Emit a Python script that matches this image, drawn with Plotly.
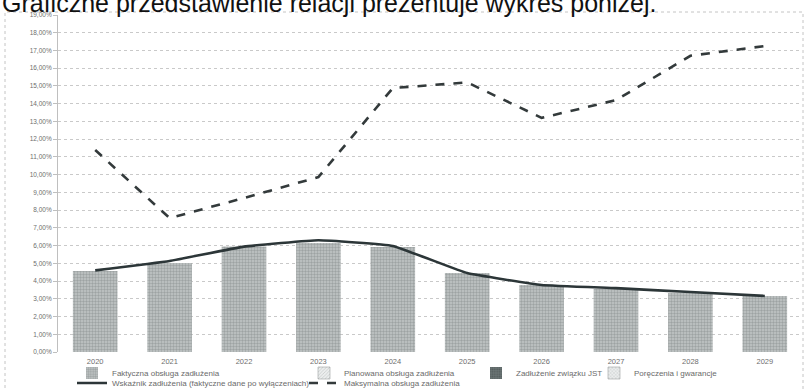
import plotly.graph_objects as go

years = ["2020", "2021", "2022", "2023", "2024", "2025", "2026", "2027", "2028", "2029"]
actual_service = [4.57, 5.02, 5.95, 6.15, 5.92, 4.45, 3.78, 3.55, 3.33, 3.16]
service_ratio_line = [4.60, 5.13, 5.94, 6.30, 5.98, 4.45, 3.78, 3.60, 3.38, 3.16]
max_service_line = [11.39, 7.55, 8.68, 9.86, 14.88, 15.20, 13.20, 14.20, 16.70, 17.25]
y_ticks = [i for i in range(0, 20)]
y_tick_labels = [f"{i},00%" for i in range(0, 20)]

title_text = "Graficzne przedstawienie relacji prezentuje wykres poniżej."
leg_names = [
    "Faktyczna obsługa zadłużenia",
    "Planowana obsługa zadłużenia",
    "Zadłużenie związku JST",
    "Poręczenia i gwarancje",
    "Wskaźnik zadłużenia (faktyczne dane po wyłączeniach)",
    "Maksymalna obsługa zadłużenia",
]

W, H = 804, 390
L, R, T, B = 58, 2, 15, 38
pw, ph = W - L - R, H - T - B


def px(x):
    return (x - L) / pw


def py(y):
    return (H - B - y) / ph


fig = go.Figure()
fig.add_trace(go.Bar(
    x=years, y=actual_service, name=leg_names[0], legend="legend",
    width=0.6,
    marker=dict(color="#bcc1c1", line=dict(width=0),
                pattern=dict(shape=".", fgcolor="#778080", bgcolor="#c2c7c7", size=3, solidity=0.5)),
))
fig.add_trace(go.Bar(
    x=years, y=[None] * len(years), name=leg_names[1], legend="legend2",
    marker=dict(color="#e4e6e6", line=dict(width=0.6, color="#9aa0a0"),
                pattern=dict(shape="/", fgcolor="#9aa0a0", bgcolor="#eceeee", size=3, solidity=0.3)),
))
fig.add_trace(go.Bar(
    x=years, y=[None] * len(years), name=leg_names[2], legend="legend3",
    marker=dict(color="#566060", line=dict(width=0),
                pattern=dict(shape=".", fgcolor="#3b4444", bgcolor="#6a7474", size=3, solidity=0.4)),
))
fig.add_trace(go.Bar(
    x=years, y=[None] * len(years), name=leg_names[3], legend="legend4",
    marker=dict(color="#e4e6e6", line=dict(width=0.6, color="#9aa0a0"),
                pattern=dict(shape="x", fgcolor="#9aa0a0", bgcolor="#eceeee", size=3, solidity=0.3)),
))
fig.add_trace(go.Scatter(
    x=years, y=service_ratio_line, name=leg_names[4], legend="legend5",
    mode="lines", line=dict(color="#2c3638", width=2.6, shape="spline", smoothing=0.3),
))
fig.add_trace(go.Scatter(
    x=years, y=max_service_line, name=leg_names[5], legend="legend6",
    mode="lines", line=dict(color="#333a3b", width=2.6, dash="dash"),
))

leg_font = dict(family="Liberation Sans, Arial", size=8, color="#6a6a6a")
leg_common = dict(font=leg_font, bgcolor="rgba(0,0,0,0)", borderwidth=0,
                  xanchor="left", yanchor="middle", itemwidth=30,
                  tracegroupgap=0)
leg_pos = [(72, 373), (304, 373), (476, 373), (594, 373), (72, 383), (304, 383)]
layout_legends = {}
for i, (lx, ly) in enumerate(leg_pos):
    key = "legend" if i == 0 else f"legend{i + 1}"
    layout_legends[key] = dict(x=px(lx), y=py(ly), **leg_common)

fig.update_layout(
    width=W, height=H,
    margin=dict(l=L, r=R, t=T, b=B, autoexpand=False),
    paper_bgcolor="white", plot_bgcolor="white",
    barmode="overlay",
    showlegend=True,
    font=dict(family="Liberation Sans, Arial", color="#6a6a6a"),
    xaxis=dict(
        type="category", categoryorder="array", categoryarray=years,
        range=[-0.5, 9.5],
        showgrid=False, showline=False, zeroline=False,
        ticks="", ticklabelstandoff=3, tickfont=dict(size=7.5, color="#6e6e6e"),
    ),
    yaxis=dict(
        range=[0, 19], tickvals=y_ticks, ticktext=y_tick_labels,
        showgrid=True, gridcolor="#c9c9c9", griddash="dot", gridwidth=1,
        zeroline=False, showline=True, linecolor="#bfbfbf", linewidth=1,
        ticks="outside", ticklen=4, tickcolor="#bfbfbf",
        tickfont=dict(size=6.5, color="#6e6e6e"),
    ),
    **layout_legends,
)

fig.add_shape(type="rect", xref="paper", yref="paper",
              x0=px(5), x1=px(803), y0=py(395), y1=py(12),
              line=dict(color="#c4c4c4", width=1, dash="dot"), layer="below")

fig.add_annotation(text=title_text, xref="paper", yref="paper",
                   x=px(0), y=py(19), xanchor="left", yanchor="bottom",
                   showarrow=False,
                   font=dict(family="Liberation Sans, Arial", size=25, color="#111111"))

fig.write_html("out.html")
